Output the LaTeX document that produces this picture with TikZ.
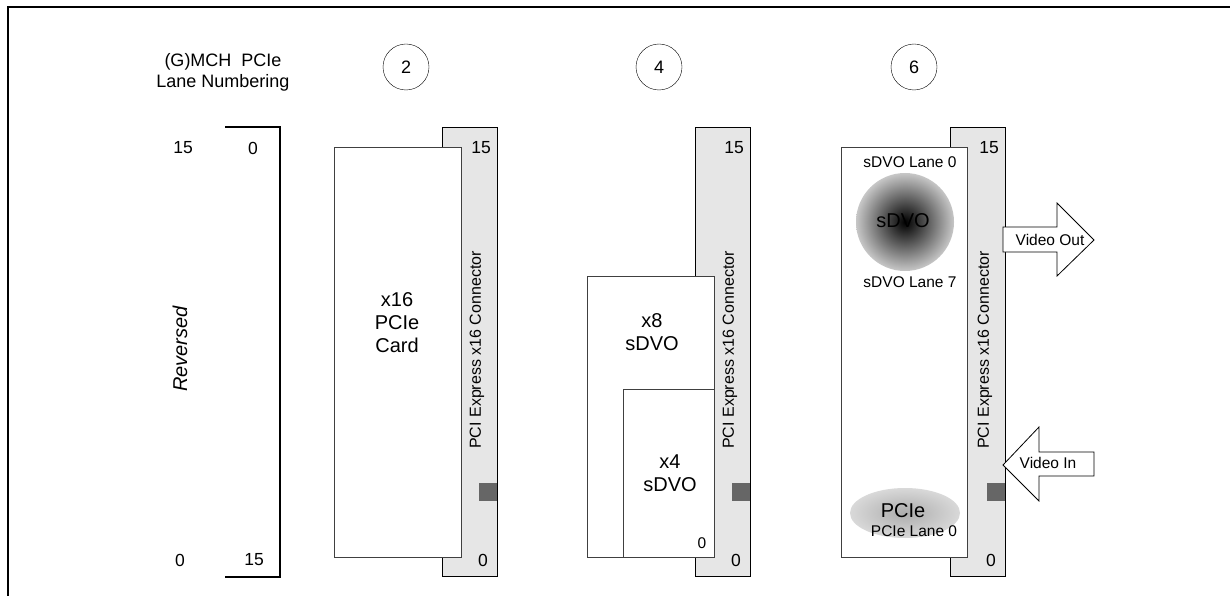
\documentclass[tikz,border=0pt]{standalone}
\usepackage{fontspec}
\setmainfont{Liberation Sans}
\usetikzlibrary{positioning}
\definecolor{pcConGray}{HTML}{E6E6E6}
\definecolor{pcPad}{HTML}{666666}
\definecolor{pcEdge}{HTML}{404040}

\begin{document}
\begin{tikzpicture}[x=1pt, y=-1pt,
  lbl/.style={font=\fontsize{20}{23}\selectfont, align=center, inner sep=0pt},
  lanenum/.style={font=\fontsize{17.5}{20}\selectfont, inner sep=0pt},
  small/.style={font=\fontsize{15.5}{18}\selectfont, inner sep=0pt},
  conn/.style={draw=black, fill=pcConGray, line width=0.8pt},
  card/.style={draw=pcEdge, fill=white, line width=0.8pt},
  badge/.style={draw, circle, minimum size=46pt, inner sep=0pt, font=\fontsize{18}{20}\selectfont},
  vidarrow/.style={draw, fill=white, line width=0.8pt},
]
\useasboundingbox (0,0) rectangle (1230,596);
\draw[line width=2.5pt] (8,596) -- (8,7) -- (1230,7);

% lane numbering legend
\node[font=\fontsize{18}{21}\selectfont, align=center, inner sep=0pt] (head) at (223,72) {(G)MCH\ \ PCIe\\Lane Numbering};
\draw[line width=1.2pt] (225,127) -- (280,127) -- (280,577) -- (225,577);
\node[lanenum] (revTopL) at (183,148) {15};
\node[lanenum] (revTopR) at (253,148) {0};
\node[lanenum] (revBotL) at (180,560) {0};
\node[lanenum] (revBotR) at (254,560) {15};
\node[rotate=90, inner sep=0pt, font=\itshape\fontsize{20}{22}\selectfont] (rev) at (180,349) {Reversed};

% connectors
\foreach \dx/\n in {0/2, 253/4, 508/6} {
  \draw[conn] (442+\dx,127) rectangle (497+\dx,576);
  \fill[pcPad] (479+\dx,483) rectangle (497+\dx,501);
  \node[badge] (badge\n) at (406+\dx,67) {\n};
  \node[lanenum] (top\n) at (481+\dx,148) {15};
  \node[lanenum] (bot\n) at (483+\dx,560) {0};
  \node[rotate=90, inner sep=0pt, font=\fontsize{16}{18}\selectfont] (conLbl\n) at (477+\dx,350) {PCI Express x16 Connector};
}

% cards
\draw[card] (334,147) rectangle (461,557);
\node[lbl] (x16) at (397,323) {x16\\PCIe\\Card};

\draw[card] (587,276) rectangle (714,557);
\node[lbl] (x8) at (652,332) {x8\\sDVO};
\draw[card] (623,389) rectangle (714,557);
\node[lbl] (x4) at (670,473) {x4\\sDVO};
\node[small] (x4zero) at (702,543) {0};

\draw[card] (841,147) rectangle (967,557);
\node[small] (sdvoL0) at (910,162) {sDVO Lane 0};
\shade[inner color=black, outer color=black!22] (905,222) circle (49);
\node[lbl] (sdvo) at (903,221) {sDVO};
\node[small] (sdvoL7) at (910,282) {sDVO Lane 7};
\shade[inner color=gray!65, outer color=gray!30] (905,513) ellipse [x radius=55, y radius=25];
\node[lbl] (pcie) at (903,511) {PCIe};
\node[small] (pcieL0) at (914,531) {PCIe Lane 0};

% video arrows
\draw[vidarrow] (1003,227) -- (1057,227) -- (1057,203) -- (1094,240) -- (1057,276) -- (1057,252) -- (1003,252) -- cycle;
\node[small] (vout) at (1050,240) {Video Out};
\draw[vidarrow] (1003,465) -- (1039,427) -- (1039,452) -- (1094,452) -- (1094,476) -- (1039,476) -- (1039,501) -- cycle;
\node[small] (vin) at (1048,463) {Video In};
\end{tikzpicture}
\end{document}
